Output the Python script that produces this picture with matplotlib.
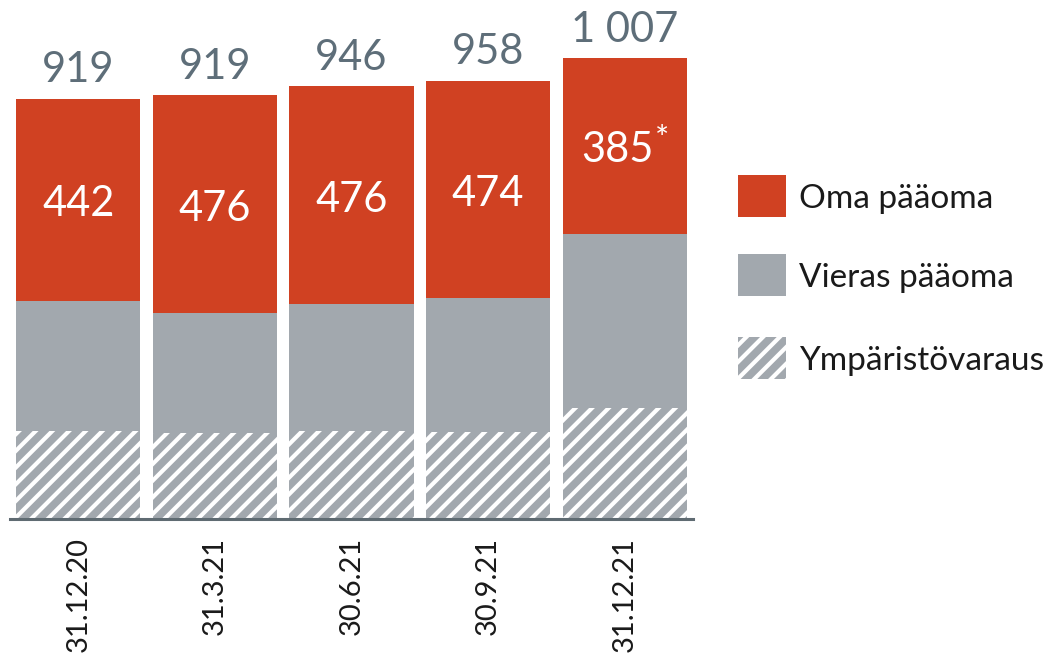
import matplotlib
matplotlib.use("Agg")
import matplotlib.pyplot as plt
from matplotlib.patches import Rectangle
import numpy as np

categories = ["31.12.20", "31.3.21", "30.6.21", "30.9.21", "31.12.21"]
ymparistovaraus = [192, 187, 192, 191, 242]
vieras_paaoma = [285, 263, 278, 293, 380]
oma_paaoma = [442, 476, 476, 474, 385]
oma_labels = ["442", "476", "476", "474", "385"]
total_labels = ["919", "919", "946", "958", "1 007"]
legend_labels = ["Oma pääoma", "Vieras pääoma", "Ympäristövaraus"]

RED = "#D04122"
GRAY = "#A2A8AE"
SLATE = "#5E6E79"
AXIS = "#5F6B72"
TXT = "#1a1a1a"

plt.rcParams["font.family"] = ["Lato", "DejaVu Sans"]
plt.rcParams["hatch.linewidth"] = 3.0
plt.rcParams["hatch.color"] = "white"

W, H = 1053, 655
fig = plt.figure(figsize=(W / 100, H / 100), dpi=100)
base_px = 519
ax = fig.add_axes([10 / W, (H - base_px) / H, (693 - 10) / W, base_px / H])

x = np.arange(len(categories))
bw = 0.908
ax.bar(x, ymparistovaraus, bw, color=GRAY, edgecolor="white", linewidth=0, hatch="//")
b1 = np.array(ymparistovaraus)
ax.bar(x, vieras_paaoma, bw, bottom=b1, color=GRAY, linewidth=0)
b2 = b1 + np.array(vieras_paaoma)
ax.bar(x, oma_paaoma, bw, bottom=b2, color=RED, linewidth=0)
tot = b2 + np.array(oma_paaoma)

ax.set_xlim(-0.5, 4.5)
ax.set_ylim(0, base_px / 0.4575)

for s in ["top", "right", "left"]:
    ax.spines[s].set_visible(False)
ax.spines["bottom"].set_color(AXIS)
ax.spines["bottom"].set_linewidth(2.2)
ax.set_yticks([])
ax.set_xticks(x)
ax.set_xticklabels(categories, rotation=90, fontsize=21, color=TXT)
ax.tick_params(axis="x", length=0, pad=13)

for i in range(len(x)):
    ax.annotate(total_labels[i], xy=(x[i], tot[i]), xytext=(0, 12), textcoords="offset points",
                ha="center", va="baseline", fontsize=30, color=SLATE, annotation_clip=False)
    mid = b2[i] + oma_paaoma[i] / 2
    if i == len(x) - 1:
        t = ax.annotate(oma_labels[i], xy=(x[i], mid), xytext=(-5, -11), textcoords="offset points",
                        ha="center", va="baseline", fontsize=30, color="white")
        ax.annotate("*", xy=(1, 1), xycoords=t, xytext=(1, 4), textcoords="offset points",
                    ha="left", va="top", fontsize=24, color="white")
    else:
        ax.annotate(oma_labels[i], xy=(x[i], mid), xytext=(0, -12), textcoords="offset points",
                    ha="center", va="baseline", fontsize=30, color="white")

# legend drawn in figure pixel coordinates
leg_faces = [RED, GRAY, GRAY]
leg_hatch = [None, None, "//"]
leg_tops = [175, 254, 337]
fs = 24
cap = fs * 100 / 72 * 0.72
for lab, fc, hp, top in zip(legend_labels, leg_faces, leg_hatch, leg_tops):
    r = Rectangle((738 / W, 1 - (top + 42) / H), 48 / W, 42 / H, transform=fig.transFigure,
                  facecolor=fc, edgecolor="white", linewidth=0, hatch=hp)
    fig.add_artist(r)
    cy = top + 21
    fig.text(799 / W, 1 - (cy + cap / 2) / H, lab, fontsize=fs, color=TXT,
             ha="left", va="baseline")

fig.savefig("out.png", dpi=100)
